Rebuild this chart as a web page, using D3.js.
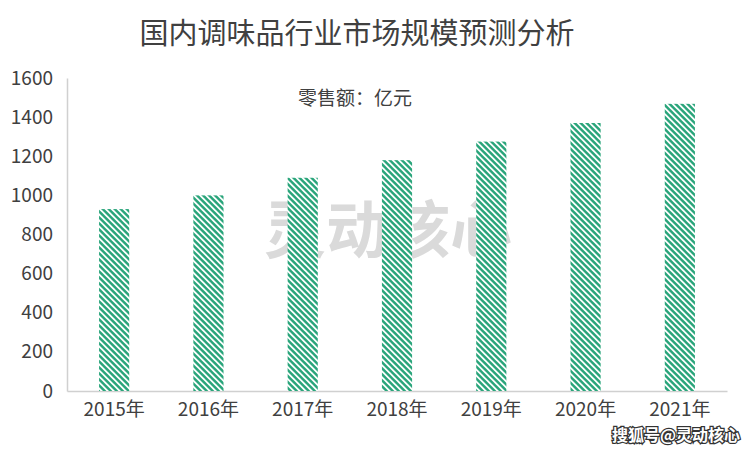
<!DOCTYPE html>
<html><head><meta charset="utf-8">
<script src="https://cdn.jsdelivr.net/npm/d3@7"></script>
<style>body{margin:0;background:#fff}svg{display:block}text{font-family:"Noto Sans CJK SC","Open Sans",sans-serif}</style>
</head><body><svg id="c" width="752" height="452"></svg>
<script>
const categories = ["2015年","2016年","2017年","2018年","2019年","2020年","2021年"];
const values = [930, 1000, 1090, 1180, 1275, 1370, 1468];
const yTicks = [0,200,400,600,800,1000,1200,1400,1600];

const svg = d3.select("#c");
const W = 752, H = 452;
const m = {l:67, r:25, t:78, b:61};
const x = d3.scaleBand().domain(categories).range([m.l, W - m.r]).paddingInner(0.68).paddingOuter(0.34);
const y = d3.scaleLinear().domain([0,1600]).range([H - m.b, m.t]);

const defs = svg.append("defs");
const P = 6, h = 3.4;
const pat = defs.append("pattern").attr("id","stripe").attr("patternUnits","userSpaceOnUse")
  .attr("width",P).attr("height",P);
pat.append("rect").attr("width",P).attr("height",P).attr("fill","#fff");
pat.append("path").attr("fill","#2aa57b")
  .attr("d",`M0,0L${h},0L${P},${P-h}L${P},${P}ZM0,${P-h}L${h},${P}L0,${P}Z`);

svg.append("rect").attr("width",W).attr("height",H).attr("fill","#fff");

svg.append("text").attr("x",357).attr("y",44).attr("text-anchor","middle")
  .attr("font-size",29).attr("fill","#404040").text("国内调味品行业市场规模预测分析");

const yAxis = svg.append("g").attr("transform",`translate(${m.l},0)`)
  .call(d3.axisLeft(y).tickValues(yTicks).tickFormat(d3.format("d")).tickSize(0).tickPadding(14));
yAxis.select(".domain").attr("stroke","#d0d0d0").attr("stroke-width",1.5);
yAxis.selectAll("text").attr("font-size",19).attr("fill","#404040").attr("font-family","'Open Sans',sans-serif");

const xAxis = svg.append("g").attr("transform",`translate(0,${y(0)})`)
  .call(d3.axisBottom(x).tickSize(0).tickPadding(12));
xAxis.select(".domain").attr("stroke","#d0d0d0").attr("stroke-width",1.5);
xAxis.selectAll("text").attr("font-size",19).attr("fill","#404040").attr("font-family","'Open Sans','Noto Sans CJK SC',sans-serif");

svg.append("text").attr("x",355).attr("y",105).attr("text-anchor","middle")
  .attr("font-size",19).attr("fill","#404040").text("零售额：亿元");

svg.append("text").attr("x",388).attr("y",253).attr("text-anchor","middle")
  .attr("font-size",62).attr("font-weight","bold").attr("fill","#dadada")
  .text("灵动核心");

svg.append("g").selectAll("rect").data(values).join("rect")
  .attr("x",(d,i)=>x(categories[i])).attr("width",x.bandwidth())
  .attr("y",d=>y(d)).attr("height",d=>y(0)-y(d)).attr("fill","url(#stripe)");

svg.append("text").attr("x",676).attr("y",441).attr("text-anchor","middle")
  .attr("font-size",16).attr("font-weight","bold").attr("fill","#fff")
  .attr("stroke","#333").attr("stroke-width",2.5).attr("paint-order","stroke")
  .text("搜狐号@灵动核心");
</script></body></html>
